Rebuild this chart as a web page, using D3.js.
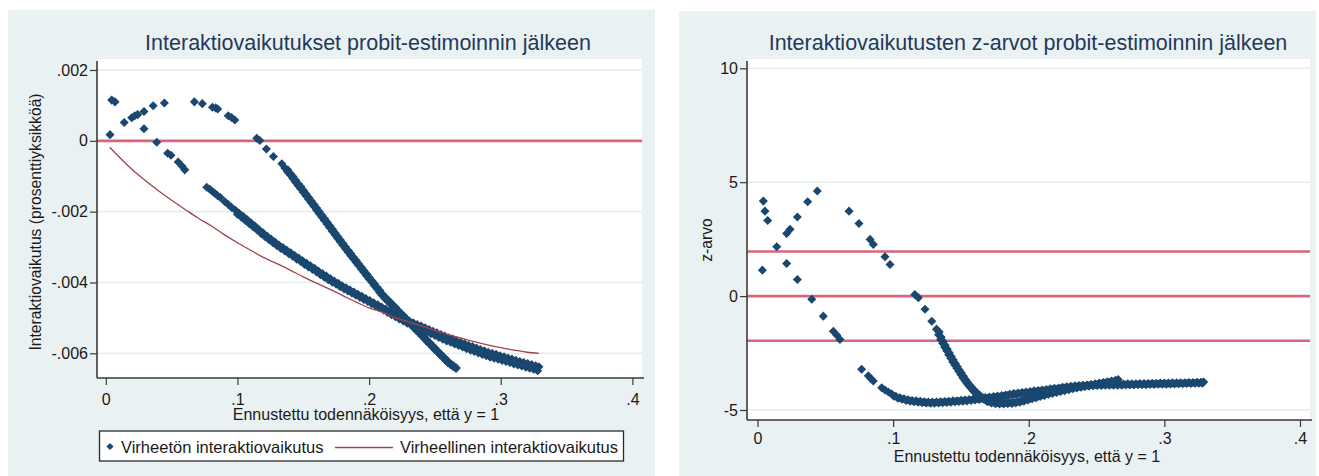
<!DOCTYPE html>
<html><head><meta charset="utf-8">
<script src="https://cdn.jsdelivr.net/npm/d3@7"></script>
<style>
html,body{margin:0;padding:0;background:#fff;}
svg{display:block;}
text{font-family:"Liberation Sans",Arial,Helvetica,sans-serif;}
</style></head><body>
<svg id="chart" width="1319" height="476"></svg>
<script>
// ---------- data ----------
const xTickValues = [0, 0.1, 0.2, 0.3, 0.4];
const xTickLabels = ["0", ".1", ".2", ".3", ".4"];
const effectTickValues = [-0.006, -0.004, -0.002, 0, 0.002];
const effectTickLabels = ["-.006", "-.004", "-.002", "0", ".002"];
const zTickValues = [-5, 0, 5, 10];
const zTickLabels = ["-5", "0", "5", "10"];
const effectRefLines = [0];
const zRefLines = [-1.96, 0, 1.96];

const leftTitle = "Interaktiovaikutukset probit-estimoinnin jälkeen";
const rightTitle = "Interaktiovaikutusten z-arvot probit-estimoinnin jälkeen";
const xTitle = "Ennustettu todennäköisyys, että y = 1";
const leftYTitle = "Interaktiovaikutus (prosenttiyksikköä)";
const rightYTitle = "z-arvo";
const legendLabels = ["Virheetön interaktiovaikutus", "Virheellinen interaktiovaikutus"];

// Correct interaction effect, first group of observations [p, effect]
const effectGroupA = [
 [0.0032,0.000175],[0.014,0.00052],[0.0197,0.00065],[0.022,0.00071],[0.0242,0.00074],[0.029,0.00083],[0.036,0.00099],[0.0445,0.00107],
 [0.0673,0.0011],[0.0733,0.00105],[0.081,0.00095],[0.0835,0.00093],[0.085,0.0009],[0.093,0.00071],[0.0955,0.00066],[0.098,0.00059],
 [0.1147,0.00007],[0.117,0.00001],[0.122,-0.00023],[0.1273,-0.00044],[0.1337,-0.00065],
 [0.136,-0.00077],[0.138,-0.00087],[0.140,-0.00096],[0.142,-0.00106],[0.144,-0.00116],[0.146,-0.00126],[0.148,-0.00135],[0.150,-0.00145],
 [0.152,-0.00155],[0.154,-0.00165],[0.156,-0.00175],[0.158,-0.00185],[0.160,-0.00195],[0.162,-0.00205],[0.164,-0.00215],[0.166,-0.00225],
 [0.168,-0.00235],[0.170,-0.00245],[0.172,-0.00255],[0.174,-0.00265],[0.176,-0.00275],[0.178,-0.00285],[0.180,-0.00295],[0.182,-0.00305],
 [0.184,-0.00314],[0.186,-0.00324],[0.188,-0.00333],[0.190,-0.00343],[0.192,-0.00352],[0.194,-0.00362],[0.196,-0.00371],[0.198,-0.00381],
 [0.200,-0.0039],[0.202,-0.00399],[0.204,-0.00409],[0.206,-0.00418],[0.208,-0.00428],[0.210,-0.00437],[0.212,-0.00445],[0.214,-0.00452],
 [0.216,-0.0046],[0.218,-0.00467],[0.220,-0.00475],[0.222,-0.00483],[0.224,-0.0049],[0.226,-0.00498],[0.228,-0.00505],[0.230,-0.00513],
 [0.232,-0.00521],[0.234,-0.00528],[0.236,-0.00536],[0.238,-0.00543],[0.240,-0.00551],[0.242,-0.00559],[0.244,-0.00567],[0.246,-0.00574],
 [0.248,-0.00582],[0.250,-0.0059],[0.252,-0.00597],[0.254,-0.00605],[0.256,-0.00612],[0.258,-0.0062],[0.260,-0.00627],[0.262,-0.00632],
 [0.264,-0.00638],[0.266,-0.00643],
 [0.1382,-0.00082],[0.1402,-0.00092],[0.1422,-0.00101],[0.1442,-0.00111],[0.1462,-0.00121],[0.1482,-0.0013],[0.1502,-0.0014],[0.1522,-0.0015],
 [0.1542,-0.0016],[0.1562,-0.0017],[0.1582,-0.0018],[0.1602,-0.0019],[0.1622,-0.002],[0.1642,-0.0021],[0.1662,-0.0022],[0.1682,-0.0023],
 [0.1702,-0.0024],[0.1722,-0.0025],[0.1742,-0.0026],[0.1762,-0.0027],[0.1782,-0.0028],[0.1802,-0.0029],[0.1822,-0.003],[0.1842,-0.0031],
 [0.1862,-0.00319],[0.1882,-0.00329],[0.1902,-0.00338],[0.1922,-0.00348],[0.1942,-0.00357],[0.1962,-0.00367],[0.1982,-0.00376],[0.2002,-0.00386],
 [0.2022,-0.00395],[0.2042,-0.00404],[0.2062,-0.00414],[0.2082,-0.00423],[0.2102,-0.00433],[0.2122,-0.00441],[0.2142,-0.00449],[0.2162,-0.00456],
 [0.2182,-0.00464],[0.2202,-0.00471],[0.2222,-0.00479],[0.2242,-0.00487],[0.2262,-0.00494],[0.2282,-0.00502],[0.2302,-0.00509],[0.2322,-0.00517],
 [0.2342,-0.00525],[0.2362,-0.00532],[0.2382,-0.0054],[0.2402,-0.00547],[0.2422,-0.00555],[0.2442,-0.00563],[0.2462,-0.00571],[0.2482,-0.00578],
 [0.2502,-0.00586],[0.2522,-0.00594],[0.2542,-0.00601],[0.2562,-0.00609],[0.2582,-0.00616],[0.2602,-0.00624],[0.2622,-0.0063],[0.2642,-0.00635],
 [0.2662,-0.00641]
];

// Correct interaction effect, second group of observations [p, effect]
const effectGroupB = [
 [0.0045,0.00115],[0.007,0.0011],[0.029,0.00034],[0.0387,-0.00004],[0.047,-0.00035],[0.0495,-0.00041],[0.055,-0.0006],[0.058,-0.00072],[0.060,-0.00082],
 [0.0767,-0.00131],[0.079,-0.00137],[0.081,-0.00143],[0.083,-0.00149],[0.085,-0.00155],[0.087,-0.0016],[0.0905,-0.00172],[0.093,-0.0018],[0.0955,-0.00188],
 [0.0985,-0.00196],[0.1015,-0.00205],[0.1045,-0.00214],[0.1075,-0.00223],[0.1105,-0.00232],[0.1135,-0.00241],[0.1165,-0.00251],[0.1195,-0.0026],
 [0.1225,-0.00269],[0.1255,-0.00277],[0.1285,-0.00286],[0.1315,-0.00294],[0.1345,-0.00301],[0.1375,-0.00309],[0.1405,-0.00316],[0.1435,-0.00324],
 [0.1465,-0.00331],[0.1495,-0.00339],[0.1525,-0.00346],[0.1555,-0.00353],[0.1585,-0.0036],[0.1615,-0.00368],[0.1645,-0.00375],[0.1675,-0.00382],
 [0.1705,-0.00389],[0.1735,-0.00396],[0.1765,-0.00402],[0.1795,-0.00409],[0.1825,-0.00415],[0.1855,-0.00421],[0.1885,-0.00427],[0.1915,-0.00433],
 [0.1945,-0.00439],[0.1975,-0.00445],[0.2005,-0.00451],[0.2035,-0.00457],[0.2065,-0.00463],[0.2095,-0.00469],[0.2125,-0.00475],[0.2155,-0.00481],
 [0.2185,-0.00487],[0.2215,-0.00493],[0.2245,-0.00498],[0.2275,-0.00504],[0.2305,-0.00509],[0.2335,-0.00514],[0.2365,-0.00519],[0.2395,-0.00523],
 [0.2425,-0.00528],[0.2455,-0.00533],[0.2485,-0.00538],[0.2515,-0.00542],[0.2545,-0.00547],[0.2575,-0.00551],[0.2605,-0.00556],[0.2635,-0.0056],
 [0.2665,-0.00565],[0.2695,-0.00569],[0.2725,-0.00573],[0.2755,-0.00577],[0.2785,-0.00581],[0.2815,-0.00585],[0.2845,-0.00589],[0.2875,-0.00593],
 [0.2905,-0.00597],[0.2935,-0.006],[0.2965,-0.00603],[0.2995,-0.00607],[0.3025,-0.0061],[0.3055,-0.00613],[0.3085,-0.00616],[0.3115,-0.0062],
 [0.3145,-0.00623],[0.3175,-0.00626],[0.3205,-0.00629],[0.3235,-0.00632],[0.3265,-0.00635],[0.329,-0.00638],
 [0.100,-0.00207],[0.103,-0.00216],[0.106,-0.00225],[0.109,-0.00234],[0.112,-0.00243],[0.115,-0.00252],[0.118,-0.00262],[0.121,-0.00271],
 [0.124,-0.00279],[0.127,-0.00288],[0.130,-0.00296],[0.133,-0.00304],[0.136,-0.00311],[0.139,-0.00319],[0.142,-0.00326],[0.145,-0.00334],
 [0.148,-0.00341],[0.151,-0.00349],[0.154,-0.00356],[0.157,-0.00363],[0.160,-0.0037],[0.163,-0.00378],[0.166,-0.00385],[0.169,-0.00392],
 [0.172,-0.00399],[0.175,-0.00405],[0.178,-0.00412],[0.181,-0.00418],[0.184,-0.00424],[0.187,-0.0043],[0.190,-0.00436],[0.193,-0.00442],
 [0.196,-0.00448],[0.199,-0.00454],[0.202,-0.0046],[0.205,-0.00466],[0.208,-0.00472],[0.211,-0.00478],[0.214,-0.00485],[0.217,-0.00491],
 [0.220,-0.00497],[0.223,-0.00503],[0.226,-0.00509],[0.229,-0.00515],[0.232,-0.0052],[0.235,-0.00525],[0.238,-0.0053],[0.241,-0.00535],
 [0.244,-0.0054],[0.247,-0.00545],[0.250,-0.0055],[0.253,-0.00555],[0.256,-0.0056],[0.259,-0.00565],[0.262,-0.00569],[0.265,-0.00574],
 [0.268,-0.00578],[0.271,-0.00582],[0.274,-0.00587],[0.277,-0.00591],[0.280,-0.00595],[0.283,-0.00599],[0.286,-0.00603],[0.289,-0.00607],
 [0.292,-0.00611],[0.295,-0.00614],[0.298,-0.00617],[0.301,-0.0062],[0.304,-0.00623],[0.307,-0.00626],[0.310,-0.0063],[0.313,-0.00633],
 [0.316,-0.00636],[0.319,-0.00639],[0.322,-0.00642],[0.325,-0.00645],[0.328,-0.00649]
];

// Incorrect (naive) interaction effect [p, effect]
const naiveEffect = [
 [0.003,-0.00018],[0.01,-0.00045],[0.02,-0.00081],[0.03,-0.00112],[0.04,-0.00141],[0.05,-0.00168],[0.06,-0.00193],[0.07,-0.00218],
 [0.08,-0.0024],[0.09,-0.00265],[0.10,-0.00288],[0.11,-0.00309],[0.12,-0.0033],[0.13,-0.00347],[0.14,-0.00365],[0.15,-0.00384],
 [0.16,-0.00402],[0.17,-0.00419],[0.18,-0.00437],[0.19,-0.00455],[0.20,-0.00472],[0.21,-0.00484],[0.22,-0.005],[0.23,-0.00511],
 [0.24,-0.00523],[0.25,-0.00535],[0.26,-0.00547],[0.27,-0.00557],[0.28,-0.00567],[0.29,-0.00576],[0.30,-0.00584],[0.31,-0.00591],
 [0.32,-0.00597],[0.329,-0.006]
];

// z-values, first group [p, z]
const zGroupA = [
 [0.0036,1.14],[0.0142,2.17],[0.0215,2.75],[0.024,2.93],[0.0294,3.47],[0.037,4.14],[0.0441,4.61],
 [0.0675,3.73],[0.0748,3.19],[0.083,2.49],[0.0854,2.27],[0.094,1.73],[0.0977,1.39],[0.116,0.07],[0.1186,-0.07],[0.1235,-0.58],[0.1285,-1.1],
 [0.132,-1.45],[0.1335,-1.7],[0.135,-1.9],[0.1365,-2.07],[0.138,-2.24],[0.1395,-2.4],[0.141,-2.57],[0.1425,-2.73],[0.144,-2.89],
 [0.1455,-3.03],[0.147,-3.17],[0.1485,-3.31],[0.150,-3.45],[0.1515,-3.59],[0.153,-3.72],[0.1545,-3.84],[0.156,-3.95],[0.1575,-4.05],
 [0.159,-4.15],[0.1605,-4.24],[0.162,-4.32],[0.1635,-4.39],[0.165,-4.46],[0.1665,-4.51],[0.168,-4.56],
 [0.171,-4.63],[0.174,-4.66],[0.177,-4.68],[0.180,-4.68],[0.183,-4.68],[0.186,-4.67],[0.189,-4.66],[0.192,-4.63],[0.195,-4.59],
 [0.198,-4.54],[0.201,-4.49],[0.204,-4.44],[0.207,-4.39],[0.210,-4.34],[0.213,-4.29],[0.216,-4.24],[0.219,-4.2],[0.222,-4.16],
 [0.225,-4.12],[0.228,-4.08],[0.231,-4.04],[0.234,-4.0],[0.237,-3.97],[0.240,-3.94],[0.243,-3.91],[0.246,-3.88],[0.249,-3.85],
 [0.252,-3.82],[0.255,-3.79],[0.258,-3.76],[0.261,-3.73],[0.264,-3.7],[0.266,-3.66],
 [0.134,-1.58],[0.1354,-1.8],[0.1369,-1.99],[0.1384,-2.16],[0.1399,-2.32],[0.1414,-2.49],[0.1429,-2.65],[0.1444,-2.81],[0.1459,-2.96],
 [0.1474,-3.1],[0.1489,-3.24],[0.1504,-3.38],[0.1519,-3.52],[0.1534,-3.66],[0.1549,-3.78],[0.1564,-3.9],[0.1579,-4.0],[0.1594,-4.1],
 [0.1609,-4.2],[0.1624,-4.28],[0.1639,-4.36],[0.1654,-4.43],[0.1669,-4.49],
 [0.1695,-4.64],[0.1725,-4.69],[0.1755,-4.72],[0.1785,-4.73],[0.1815,-4.73],[0.1845,-4.72],[0.1875,-4.71],[0.1905,-4.69],[0.1935,-4.66],
 [0.1965,-4.61],[0.1995,-4.56],[0.2025,-4.51],[0.2055,-4.46],[0.2085,-4.41],[0.2115,-4.36],[0.2145,-4.31],[0.2175,-4.27],[0.2205,-4.23],
 [0.2235,-4.19],[0.2265,-4.15],[0.2295,-4.11],[0.2325,-4.07],[0.2355,-4.03],[0.2385,-4.0],[0.2415,-3.97],[0.2445,-3.94],[0.2475,-3.91],
 [0.2505,-3.88],[0.2535,-3.85],[0.2565,-3.82],[0.2595,-3.79],[0.2625,-3.76],[0.265,-3.73]
];

// z-values, second group [p, z]
const zGroupB = [
 [0.0043,4.17],[0.0055,3.73],[0.0075,3.32],[0.0215,1.43],[0.0294,0.73],[0.04,-0.14],[0.0485,-0.88],[0.0559,-1.54],[0.0585,-1.72],[0.0608,-1.9],
 [0.0768,-3.21],[0.0817,-3.5],[0.0835,-3.62],[0.0854,-3.73],[0.0916,-4.02],[0.094,-4.12],[0.0965,-4.21],
 [0.099,-4.3],[0.102,-4.4],[0.105,-4.46],[0.108,-4.51],[0.111,-4.55],[0.114,-4.58],[0.117,-4.6],[0.120,-4.62],[0.123,-4.64],[0.126,-4.65],
 [0.129,-4.65],[0.132,-4.65],[0.135,-4.64],[0.138,-4.63],[0.141,-4.62],[0.144,-4.6],[0.147,-4.59],[0.150,-4.57],[0.153,-4.56],[0.156,-4.54],
 [0.159,-4.52],[0.162,-4.5],[0.165,-4.48],[0.168,-4.45],[0.171,-4.43],[0.174,-4.41],[0.177,-4.39],[0.180,-4.37],[0.183,-4.34],[0.186,-4.31],
 [0.189,-4.28],[0.192,-4.26],[0.195,-4.23],[0.198,-4.21],[0.201,-4.19],[0.204,-4.16],[0.207,-4.14],[0.210,-4.12],[0.213,-4.1],[0.216,-4.07],
 [0.219,-4.05],[0.222,-4.03],[0.225,-4.0],[0.228,-3.98],[0.231,-3.96],[0.234,-3.94],[0.237,-3.93],[0.240,-3.91],[0.243,-3.9],[0.246,-3.89],
 [0.249,-3.88],[0.252,-3.87],[0.255,-3.87],[0.258,-3.86],[0.261,-3.86],[0.264,-3.86],[0.267,-3.86],[0.270,-3.86],[0.273,-3.85],[0.276,-3.85],
 [0.279,-3.85],[0.282,-3.84],[0.285,-3.84],[0.288,-3.84],[0.291,-3.83],[0.294,-3.83],[0.297,-3.82],[0.300,-3.82],[0.303,-3.82],[0.306,-3.81],
 [0.309,-3.81],[0.312,-3.8],[0.315,-3.8],[0.318,-3.79],[0.321,-3.79],[0.324,-3.78],[0.327,-3.78],[0.329,-3.77],
 [0.1005,-4.4],[0.1035,-4.48],[0.1065,-4.53],[0.1095,-4.58],[0.1125,-4.61],[0.1155,-4.64],[0.1185,-4.66],[0.1215,-4.68],[0.1245,-4.69],
 [0.1275,-4.7],[0.1305,-4.7],[0.1335,-4.69],[0.1365,-4.68],[0.1395,-4.67],[0.1425,-4.66],[0.1455,-4.64],[0.1485,-4.63],[0.1515,-4.61],
 [0.1545,-4.6],[0.1575,-4.58],[0.1605,-4.56],[0.1635,-4.54],[0.1665,-4.52],[0.1695,-4.49],[0.1725,-4.47],[0.1755,-4.45],[0.1785,-4.43],
 [0.1815,-4.4],[0.1845,-4.37],[0.1875,-4.34],[0.1905,-4.32],[0.1935,-4.29],[0.1965,-4.27],[0.1995,-4.25],[0.2025,-4.22],[0.2055,-4.2],
 [0.2085,-4.18],[0.2115,-4.16],[0.2145,-4.13],[0.2175,-4.11],[0.2205,-4.09],[0.2235,-4.06],[0.2265,-4.04],[0.2295,-4.02],[0.2325,-4.0],
 [0.2355,-3.98],[0.2385,-3.97],[0.2415,-3.95],[0.2445,-3.94],[0.2475,-3.93],[0.2505,-3.92],[0.2535,-3.92],[0.2565,-3.91],[0.2595,-3.91],
 [0.2625,-3.91],[0.2655,-3.91],[0.2685,-3.91],[0.2715,-3.9],[0.2745,-3.9],[0.2775,-3.9],[0.2805,-3.89],[0.2835,-3.89],[0.2865,-3.89],
 [0.2895,-3.88],[0.2925,-3.88],[0.2955,-3.87],[0.2985,-3.87],[0.3015,-3.87],[0.3045,-3.86],[0.3075,-3.86],[0.3105,-3.85],[0.3135,-3.85],
 [0.3165,-3.84],[0.3195,-3.84],[0.3225,-3.83],[0.3255,-3.83],[0.328,-3.82]
];

// ---------- styling ----------
const C = {
  panel: "#eaf1f3", plot: "#ffffff", grid: "#e3edf0", axis: "#3a3a3a",
  marker: "#1a476f", refLine: "#d9647c", naive: "#a4434b",
  title: "#24395a", text: "#1a1a1a"
};
const svg = d3.select("#chart");
const diamond = d3.symbol().type(d3.symbolSquare).size(41);

function drawPanel(cfg) {
  const g = svg.append("g");
  g.append("rect").attr("x", cfg.panel[0]).attr("y", cfg.panel[1])
    .attr("width", cfg.panel[2]).attr("height", cfg.panel[3]).attr("fill", C.panel);
  const [px0, py0, px1, py1] = cfg.plot;
  g.append("rect").attr("x", px0).attr("y", py0).attr("width", px1 - px0).attr("height", py1 - py0).attr("fill", C.plot);

  const x = d3.scaleLinear().domain([0, 0.4]).range(cfg.xRange);
  const y = d3.scaleLinear().domain(cfg.yDomain).range(cfg.yRange);

  g.append("g").selectAll("line").data(cfg.yTicks.filter(v => !cfg.refLines.includes(v))).join("line")
    .attr("x1", px0).attr("x2", px1).attr("y1", d => y(d)).attr("y2", d => y(d))
    .attr("stroke", C.grid).attr("stroke-width", 1.6);
  g.append("g").selectAll("line").data(cfg.refLines).join("line")
    .attr("x1", px0).attr("x2", px1).attr("y1", d => y(d)).attr("y2", d => y(d))
    .attr("stroke", C.refLine).attr("stroke-width", 2.6);

  const pts = cfg.groups.flat();
  g.append("g").selectAll("path").data(pts).join("path")
    .attr("d", diamond)
    .attr("transform", d => `translate(${x(d[0])},${y(d[1])}) rotate(45)`)
    .attr("fill", C.marker);

  if (cfg.line) {
    g.append("path").datum(cfg.line)
      .attr("d", d3.line().x(d => x(d[0])).y(d => y(d[1])).curve(d3.curveMonotoneX))
      .attr("fill", "none").attr("stroke", C.naive).attr("stroke-width", 1.3);
  }

  const yAxis = d3.axisLeft(y).tickValues(cfg.yTicks).tickFormat((d, i) => cfg.yLabels[i])
    .tickSize(7).tickPadding(2);
  const ya = g.append("g").attr("transform", `translate(${px0},0)`).call(yAxis);
  const xAxis = d3.axisBottom(x).tickValues(xTickValues).tickFormat((d, i) => xTickLabels[i])
    .tickSize(7).tickPadding(cfg.xPad);
  const xa = g.append("g").attr("transform", `translate(0,${py1})`).call(xAxis);
  [ya, xa].forEach(a => {
    a.select(".domain").remove();
    a.selectAll(".tick line").attr("stroke", C.axis).attr("stroke-width", 1.2);
    a.selectAll(".tick text").attr("fill", C.text).style("font-size", "16px")
      .style("font-family", '"Liberation Sans", Arial, sans-serif');
  });
  g.append("line").attr("x1", px0).attr("x2", px0).attr("y1", py0 + 2).attr("y2", py1)
    .attr("stroke", C.axis).attr("stroke-width", 1.6);
  g.append("line").attr("x1", px0).attr("x2", px1 + 2).attr("y1", py1).attr("y2", py1)
    .attr("stroke", C.axis).attr("stroke-width", 1.6);

  g.append("text").attr("x", cfg.titlePos[0]).attr("y", cfg.titlePos[1]).attr("text-anchor", "middle")
    .attr("fill", C.title).style("font-size", "21.5px").text(cfg.title);
  g.append("text").attr("x", cfg.xTitlePos[0]).attr("y", cfg.xTitlePos[1]).attr("text-anchor", "middle")
    .attr("fill", C.text).style("font-size", "16px").text(xTitle);
  g.append("text").attr("transform", `translate(${cfg.yTitlePos[0]},${cfg.yTitlePos[1]}) rotate(-90)`)
    .attr("text-anchor", "middle").attr("fill", C.text).style("font-size", "15.7px").text(cfg.yTitle);
  return { x, y };
}

drawPanel({
  panel: [8, 10, 647, 466], plot: [97, 59, 642, 378],
  xRange: [105.8, 632.4], yDomain: [-0.006, 0.002], yRange: [353.3, 70],
  yTicks: effectTickValues, yLabels: effectTickLabels, refLines: effectRefLines,
  groups: [effectGroupA, effectGroupB], line: naiveEffect, xPad: 9,
  title: leftTitle, titlePos: [368, 50], xTitlePos: [366, 419.5], yTitle: leftYTitle, yTitlePos: [41, 222]
});
drawPanel({
  panel: [679, 11, 637, 465], plot: [747, 59, 1310, 420],
  xRange: [757.5, 1300], yDomain: [-5, 10], yRange: [410, 68.3],
  yTicks: zTickValues, yLabels: zTickLabels, refLines: zRefLines,
  groups: [zGroupA, zGroupB], line: null, xPad: 6,
  title: rightTitle, titlePos: [1028, 50], xTitlePos: [1027, 461.5], yTitle: rightYTitle, yTitlePos: [712, 240]
});

// legend (left panel)
const lg = svg.append("g");
lg.append("rect").attr("x", 99.5).attr("y", 431).attr("width", 524).attr("height", 30)
  .attr("fill", "#ffffff").attr("stroke", "#2a2a2a").attr("stroke-width", 1.3);
lg.append("path").attr("d", d3.symbol().type(d3.symbolSquare).size(26))
  .attr("transform", "translate(110,446.5) rotate(45)").attr("fill", C.marker);
lg.append("text").attr("x", 121).attr("y", 453).attr("fill", C.text).style("font-size", "16.5px").text(legendLabels[0]);
lg.append("line").attr("x1", 335).attr("x2", 393).attr("y1", 447.5).attr("y2", 447.5)
  .attr("stroke", C.naive).attr("stroke-width", 1.4);
lg.append("text").attr("x", 400).attr("y", 453).attr("fill", C.text).style("font-size", "16.5px").text(legendLabels[1]);
</script>
</body></html>
